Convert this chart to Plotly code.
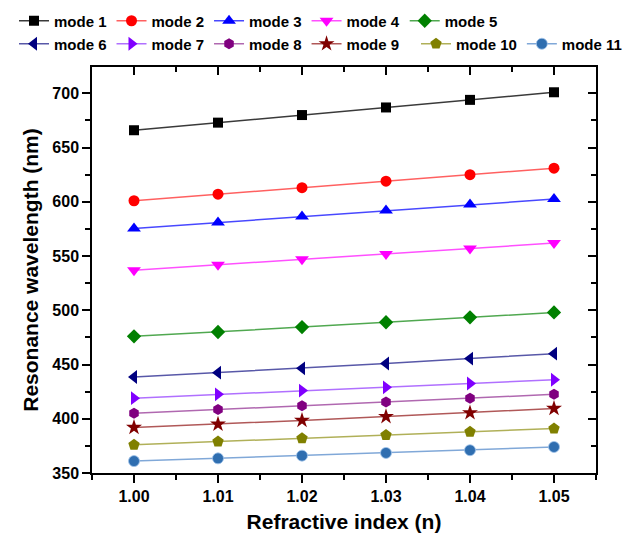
import plotly.graph_objects as go

n_index = [1.00, 1.01, 1.02, 1.03, 1.04, 1.05]

mode1 = [666, 673, 680, 687, 694, 701]
mode2 = [601, 607, 613, 619, 625, 631]
mode3 = [575.5, 581, 586.5, 592, 597.5, 602.5]
mode4 = [537, 542, 547, 552, 557, 562]
mode5 = [476, 480, 484.5, 489, 493.5, 498]
mode6 = [438.5, 442.5, 446.5, 451, 455.5, 460]
mode7 = [419, 422.5, 426, 429, 432.5, 436]
mode8 = [405, 408.5, 412, 415.5, 419, 422.5]
mode9 = [392, 395, 398.5, 402, 405.5, 409.5]
mode10 = [376, 379, 382, 385, 388, 391]
mode11 = [361, 363.5, 366, 368.5, 371, 374]

names = ["mode 1", "mode 2", "mode 3", "mode 4", "mode 5", "mode 6",
         "mode 7", "mode 8", "mode 9", "mode 10", "mode 11"]
series = [mode1, mode2, mode3, mode4, mode5, mode6, mode7, mode8, mode9, mode10, mode11]
marker_colors = ["#000000", "#FF0000", "#0000FF", "#FF00FF", "#008000", "#000080",
                 "#8000FF", "#800080", "#800000", "#808000", "#2F6EB0"]
line_colors = ["#3a3a3a", "#FF6060", "#4848FF", "#FF50FF", "#50A850", "#5858A8",
               "#B070FF", "#B068B0", "#B05858", "#B0B058", "#80A8D8"]
symbols = ["square", "circle", "triangle-up", "triangle-down", "diamond", "triangle-left",
           "triangle-right", "hexagon", "star", "pentagon", "circle"]
sizes = [10, 11, 12, 12, 11, 12, 12, 11, 12, 12, 11]
legend_of = ["legend"] * 5 + ["legend2"] * 4 + ["legend3"] * 2

fig = go.Figure()
for i, (nm, ys) in enumerate(zip(names, series)):
    fig.add_trace(go.Scatter(
        x=n_index, y=ys, name=nm, mode="lines+markers",
        line=dict(color=line_colors[i], width=1.5),
        marker=dict(symbol=symbols[i], size=sizes[i], color=marker_colors[i],
                    line=dict(width=0.8 if i == 10 else 0, color="#9FC3EA")),
        legend=legend_of[i],
    ))

# empty trace to realise the mirrored frame axes
fig.add_trace(go.Scatter(x=[], y=[], xaxis="x2", yaxis="y2", showlegend=False))

tickfont = dict(family="Arial", size=16, color="black", weight="bold")
titlefont = dict(family="Arial", size=21, color="black", weight="bold")
legfont = dict(family="Arial", size=15, color="black", weight="bold")
xr = [0.995, 1.055]
yr = [350, 724.3]


def leg(xpx, ypx):
    return dict(orientation="h", xref="container", yref="container",
                x=xpx / 634, xanchor="left", y=1 - ypx / 537, yanchor="middle",
                font=legfont, bgcolor="rgba(0,0,0,0)", itemwidth=30, tracegroupgap=0)


fig.update_layout(
    width=634, height=537,
    margin=dict(l=92, r=38, t=67, b=64, autoexpand=False),
    plot_bgcolor="white", paper_bgcolor="white",
    xaxis=dict(range=xr, dtick=0.01, tickformat=".2f", ticks="outside", ticklen=8,
               tickwidth=1.5, tickcolor="black", showline=True, linewidth=1.5,
               linecolor="black", showgrid=False, zeroline=False, tickfont=tickfont,
               automargin=False,
               minor=dict(ticks="outside", ticklen=5, dtick=0.005, tickwidth=1.5, tickcolor="black"),
               title=dict(text="Refractive index (n)", font=titlefont, standoff=10)),
    yaxis=dict(range=yr, dtick=50, ticks="outside", ticklen=8, tickwidth=1.5,
               tickcolor="black", showline=True, linewidth=1.5, linecolor="black",
               showgrid=False, zeroline=False, tickfont=tickfont, automargin=False,
               minor=dict(ticks="outside", ticklen=5, dtick=25, tickwidth=1.5, tickcolor="black"),
               title=dict(text="Resonance wavelength (nm)", font=titlefont, standoff=8)),
    xaxis2=dict(range=xr, overlaying="x", side="top", anchor="y2", dtick=0.01,
                ticks="inside", ticklen=8, tickwidth=1.5, tickcolor="black",
                showline=True, linewidth=1.5, linecolor="black", showgrid=False,
                zeroline=False, showticklabels=False, automargin=False,
                minor=dict(ticks="inside", ticklen=5, dtick=0.005, tickwidth=1.5, tickcolor="black")),
    yaxis2=dict(range=yr, overlaying="y", side="right", anchor="x2", dtick=50,
                ticks="inside", ticklen=8, tickwidth=1.5, tickcolor="black",
                showline=True, linewidth=1.5, linecolor="black", showgrid=False,
                zeroline=False, showticklabels=False, automargin=False,
                minor=dict(ticks="inside", ticklen=5, dtick=25, tickwidth=1.5, tickcolor="black")),
    legend=leg(14, 21),
    legend2=leg(14, 44),
    legend3=leg(416, 44),
    showlegend=True,
)

fig.write_html("out.html")
